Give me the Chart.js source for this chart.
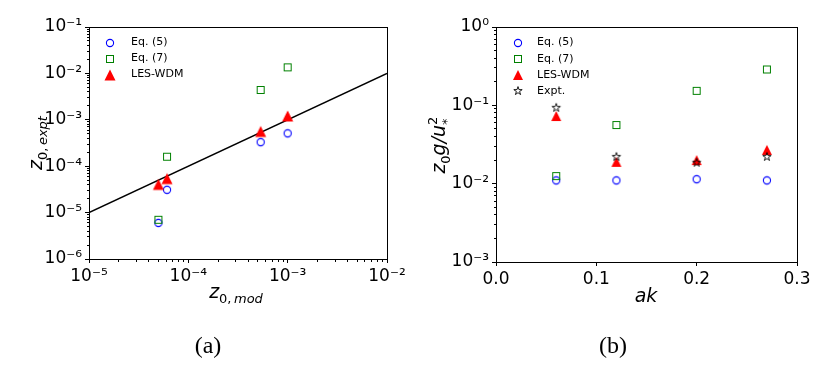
<!DOCTYPE html>
<html><head><meta charset="utf-8">
<script src="https://cdn.jsdelivr.net/npm/chart.js@4/dist/chart.umd.min.js"></script>
<style>
html,body{margin:0;padding:0;background:#fff;}
#wrap{position:relative;width:830px;height:366px;overflow:hidden;background:#fff;}
.pane{position:absolute;top:0;width:415px;height:366px;}
.cap{position:absolute;top:333px;line-height:24px;font-family:'Liberation Serif','DejaVu Serif',serif;font-size:24px;color:#000;transform:translateX(-50%);white-space:nowrap;}
</style></head><body>
<div id="wrap">
  <div class="pane" style="left:0"><canvas id="ca" width="415" height="366"></canvas></div>
  <div class="pane" style="left:415px"><canvas id="cb" width="415" height="366"></canvas></div>
  <div class="cap" style="left:208px">(a)</div>
  <div class="cap" style="left:613px">(b)</div>
</div>
<script>
// ---------- data: panel (a) ----------
const z0Mod      = [5.0e-5, 6.1e-5, 5.35e-4, 1.0e-3];
const z0ExptEq5  = [6.0e-6, 3.1e-5, 3.3e-4, 5.1e-4];
const z0ExptEq7  = [7.0e-6, 1.6e-4, 4.4e-3, 1.35e-2];
const z0ExptLES  = [4.05e-5, 5.4e-5, 5.6e-4, 1.21e-3];
const refLineX   = [1e-5, 1e-2];
const refLineY   = [1e-5, 1e-2];
const xTicksA    = [1e-5, 1e-4, 1e-3, 1e-2];
const yTicksA    = [1e-6, 1e-5, 1e-4, 1e-3, 1e-2, 1e-1];
const legendA    = ['Eq. (5)', 'Eq. (7)', 'LES-WDM'];
// ---------- data: panel (b) ----------
const akVals     = [0.06, 0.12, 0.20, 0.27];
const chEq5      = [0.011, 0.011, 0.0114, 0.011];
const chEq7      = [0.0125, 0.056, 0.153, 0.287];
const chLES      = [0.073, 0.019, 0.020, 0.027];
const chExpt     = [0.093, 0.022, 0.0185, 0.022];
const xTicksB    = [0, 0.1, 0.2, 0.3];
const yTicksB    = [1e-3, 1e-2, 1e-1, 1];
const legendB    = ['Eq. (5)', 'Eq. (7)', 'LES-WDM', 'Expt.'];

const FAM = '"DejaVu Sans"';
const SUP = {'-':'\u207B','0':'\u2070','1':'\u00B9','2':'\u00B2','3':'\u00B3','4':'\u2074','5':'\u2075','6':'\u2076','7':'\u2077','8':'\u2078','9':'\u2079'};
function decadeLabel(v){ const e = Math.round(Math.log10(v)); return '10' + String(e).split('').map(c => SUP[c]).join(''); }

function makeMarker(size, draw){ const c = document.createElement('canvas'); c.width = size; c.height = size; const g = c.getContext('2d'); draw(g, size/2); return c; }
function triMarker(half){ return makeMarker(14, (g,c) => { g.fillStyle = '#ff0000'; g.beginPath(); g.moveTo(c, c-half); g.lineTo(c+half, c+half); g.lineTo(c-half, c+half); g.closePath(); g.fill(); }); }
const MK = {
  circle: makeMarker(12, (g,c) => { g.strokeStyle = '#0000ff'; g.lineWidth = 1.1; g.beginPath(); g.arc(c, c, 3.6, 0, 2*Math.PI); g.stroke(); }),
  square: makeMarker(12, (g,c) => { g.strokeStyle = '#008000'; g.lineWidth = 1; g.strokeRect(c-3.5, c-3.5, 7, 7); }),
  triA: triMarker(5.5),
  triB: triMarker(5),
  star: makeMarker(14, (g,c) => { g.strokeStyle = '#000'; g.lineWidth = 0.9; g.beginPath(); const R = 4.4, r = R*0.382;
        for (let i = 0; i < 10; i++){ const a = -Math.PI/2 + i*Math.PI/5; const rr = i%2 ? r : R; const x = c + rr*Math.cos(a), y = c + rr*Math.sin(a); i ? g.lineTo(x,y) : g.moveTo(x,y); }
        g.closePath(); g.stroke(); })
};

function al(p){ return Math.round(p - 0.5) + 0.5; }

function drawRich(ctx, parts, x, y, angle){
  ctx.save(); ctx.translate(x, y); ctx.rotate(angle || 0);
  ctx.textBaseline = 'alphabetic'; ctx.textAlign = 'left'; ctx.fillStyle = '#000';
  let total = 0;
  parts.forEach(p => { ctx.font = p.f; p.w = ctx.measureText(p.t).width; if (p.adv !== false) total += p.w + (p.gap || 0); });
  let cx = -total/2;
  parts.forEach(p => { ctx.font = p.f; ctx.fillText(p.t, cx, p.dy || 0); if (p.adv !== false) cx += p.w + (p.gap || 0); });
  ctx.restore();
}

const I19 = 'italic 19px ' + FAM, R13 = '13px ' + FAM, I13 = 'italic 13px ' + FAM;

function decoPlugin(cfg){
  return {
    id: 'deco',
    afterDraw(chart){
      const ctx = chart.ctx, a = chart.chartArea;
      ctx.save();
      ctx.strokeStyle = '#000'; ctx.lineWidth = 1;
      const L = al(a.left), R = al(a.right), T = al(a.top), B = al(a.bottom);
      ctx.strokeRect(L, T, R - L, B - T);
      // minor ticks on log axes
      ['x','y'].forEach(id => {
        const s = chart.scales[id];
        if (s.type !== 'logarithmic') return;
        const e0 = Math.floor(Math.log10(s.min)), e1 = Math.ceil(Math.log10(s.max));
        ctx.beginPath();
        for (let e = e0; e < e1; e++) for (let m = 2; m <= 9; m++){
          const v = m * Math.pow(10, e);
          if (v <= s.min || v >= s.max) continue;
          const p = al(s.getPixelForValue(v));
          if (id === 'x'){ ctx.moveTo(p, B); ctx.lineTo(p, B + 2.5); }
          else { ctx.moveTo(L, p); ctx.lineTo(L - 2.5, p); }
        }
        ctx.stroke();
      });
      // legend
      ctx.font = '11px ' + FAM; ctx.fillStyle = '#000'; ctx.textBaseline = 'middle'; ctx.textAlign = 'left';
      cfg.legend.forEach((lab, i) => {
        const ds = chart.data.datasets.find(d => d.label === lab);
        const y = cfg.legY + i * cfg.legDy;
        const img = ds.pointStyle;
        ctx.drawImage(img, Math.round(cfg.legMX - img.width/2), Math.round(y - img.height/2));
        ctx.fillText(lab, cfg.legTX, y);
      });
      // axis titles
      cfg.titles.forEach(t => drawRich(ctx, t.parts, t.x, t.y, t.angle));
      ctx.restore();
    }
  };
}

function fitFix(isX, size){ return s => { if (isX) s.height = size; else s.width = size; s.paddingLeft = 0; s.paddingRight = 0; s.paddingTop = 0; s.paddingBottom = 0; }; }
function axisBase(isX, size, tickArr, cb){
  return {
    position: isX ? 'bottom' : 'left',
    afterBuildTicks: s => { s.ticks = tickArr.map(v => ({ value: v })); },
    afterFit: fitFix(isX, size),
    ticks: { callback: cb, font: { size: 17, family: 'DejaVu Sans' }, color: '#000', padding: 3, maxRotation: 0, minRotation: 0, autoSkip: false },
    grid: { display: true, drawOnChartArea: false, drawTicks: true, tickLength: 4, tickColor: '#000', tickWidth: 1 },
    border: { display: true, color: '#000', width: 1 }
  };
}
function pts(xs, ys){ return xs.map((x, i) => ({ x: x, y: ys[i] })); }

Chart.defaults.font.family = 'DejaVu Sans';

// ---------- panel (a) ----------
new Chart(document.getElementById('ca'), {
  type: 'scatter',
  data: { datasets: [
    { label: 'Eq. (5)', data: pts(z0Mod, z0ExptEq5), pointStyle: MK.circle, pointRadius: 5, order: 4 },
    { label: 'Eq. (7)', data: pts(z0Mod, z0ExptEq7), pointStyle: MK.square, pointRadius: 5, order: 3 },
    { label: 'LES-WDM', data: pts(z0Mod, z0ExptLES), pointStyle: MK.triA, pointRadius: 5, order: 2 },
    { label: 'ref', data: pts(refLineX, refLineY), showLine: true, borderColor: '#000', borderWidth: 1.5, pointRadius: 0, order: 10 }
  ]},
  options: {
    responsive: false, animation: false, events: [], devicePixelRatio: 1,
    layout: { padding: { left: 0, right: 28, top: 27, bottom: 0 } },
    plugins: { legend: { display: false }, tooltip: { enabled: false } },
    scales: {
      x: Object.assign({ type: 'logarithmic', min: 1e-5, max: 1e-2 }, axisBase(true, 107, xTicksA, v => decadeLabel(v))),
      y: Object.assign({ type: 'logarithmic', min: 1e-6, max: 1e-1 }, axisBase(false, 89, yTicksA, v => decadeLabel(v)))
    }
  },
  plugins: [decoPlugin({
    legend: legendA, legMX: 110, legTX: 131, legY: 42.5, legDy: 16,
    titles: [
      { x: 236, y: 298, angle: 0, parts: [ {t:'z', f:I19}, {t:'0', f:R13, dy:4.5}, {t:',', f:R13, dy:4.5, gap:2.5}, {t:'mod', f:I13, dy:4.5} ] },
      { x: 42, y: 143, angle: -Math.PI/2, parts: [ {t:'z', f:I19}, {t:'0', f:R13, dy:4.5}, {t:',', f:R13, dy:4.5, gap:2.5}, {t:'expt', f:I13, dy:4.5} ] }
    ]
  })]
});

// ---------- panel (b) ----------
new Chart(document.getElementById('cb'), {
  type: 'scatter',
  data: { datasets: [
    { label: 'Eq. (5)', data: pts(akVals, chEq5), pointStyle: MK.circle, pointRadius: 5, order: 4 },
    { label: 'Eq. (7)', data: pts(akVals, chEq7), pointStyle: MK.square, pointRadius: 5, order: 3 },
    { label: 'LES-WDM', data: pts(akVals, chLES), pointStyle: MK.triB, pointRadius: 5, order: 2 },
    { label: 'Expt.', data: pts(akVals, chExpt), pointStyle: MK.star, pointRadius: 5, order: 1 }
  ]},
  options: {
    responsive: false, animation: false, events: [], devicePixelRatio: 1,
    layout: { padding: { left: 0, right: 33, top: 27, bottom: 0 } },
    plugins: { legend: { display: false }, tooltip: { enabled: false } },
    scales: {
      x: Object.assign({ type: 'linear', min: 0, max: 0.3 }, axisBase(true, 104, xTicksB, v => Number(v).toFixed(1))),
      y: Object.assign({ type: 'logarithmic', min: 1e-3, max: 1 }, axisBase(false, 81, yTicksB, v => decadeLabel(v)))
    }
  },
  plugins: [decoPlugin({
    legend: legendB, legMX: 103, legTX: 122, legY: 42.5, legDy: 16.3,
    titles: [
      { x: 231, y: 302, angle: 0, parts: [ {t:'ak', f:I19} ] },
      { x: 30, y: 146, angle: -Math.PI/2, parts: [ {t:'z', f:I19}, {t:'0', f:R13, dy:4.5}, {t:'g/u', f:I19}, {t:'2', f:R13, dy:-8, adv:false}, {t:'*', f:R13, dy:6} ] }
    ]
  })]
});
</script>
</body></html>
